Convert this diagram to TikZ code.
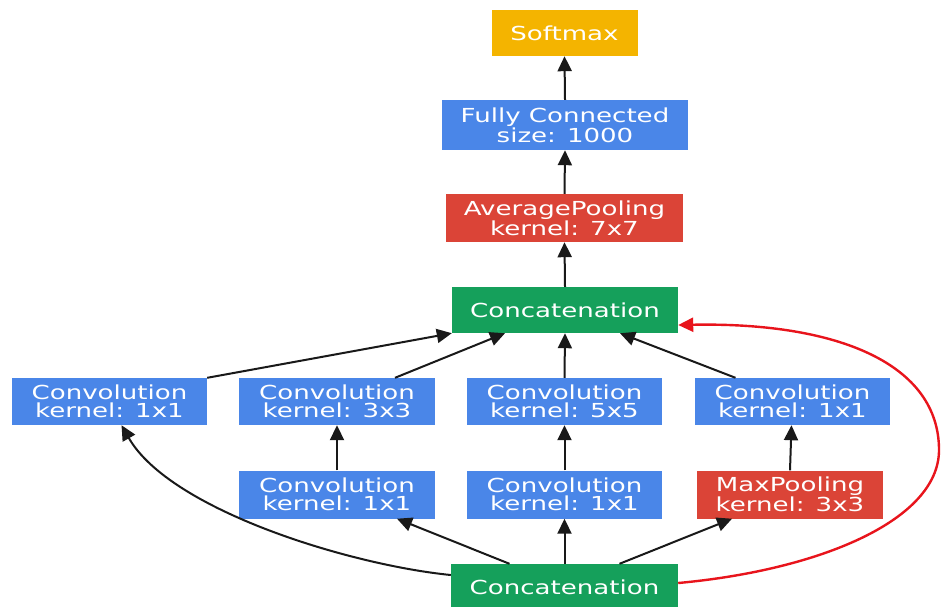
\documentclass[tikz,border=0pt]{standalone}
\usepackage{fontspec}
\setmainfont[FakeStretch=1.35]{DejaVu Sans}
\usetikzlibrary{arrows.meta}
\definecolor{gblue}{HTML}{4A86E8}
\definecolor{gred}{HTML}{DB4437}
\definecolor{gyellow}{HTML}{F4B400}
\definecolor{ggreen}{HTML}{15A05B}
\definecolor{linkred}{HTML}{E8141C}
\begin{document}
\begin{tikzpicture}[x=1pt,y=-1pt,
  layer/.style={inner sep=0pt, align=center, text=white,
    font=\fontsize{19.3}{18.5}\selectfont},
  bluebox/.style={layer, fill=gblue},
  redbox/.style={layer, fill=gred},
  yellowbox/.style={layer, fill=gyellow},
  greenbox/.style={layer, fill=ggreen},
  link/.style={draw=black!90, line width=2pt,
    -{Triangle[length=15pt,width=14pt]}},
  skip/.style={draw=linkred, line width=2.4pt,
    -{Triangle[length=15pt,width=14pt]}}]
\useasboundingbox (0,0) rectangle (941,606);
\fill[white] (0,0) rectangle (941,606);

% output stack
\node[yellowbox, minimum width=146pt, minimum height=46pt] (sm) at (564.5,33) {Softmax};
\node[bluebox, minimum width=246pt, minimum height=50pt] (fc) at (565,125) {Fully Connected\\size: 1000};
\node[redbox, minimum width=237pt, minimum height=48pt] (ap) at (564.5,218) {AveragePooling\\kernel: 7x7};
\node[greenbox, minimum width=226pt, minimum height=46pt] (ct) at (565,310) {Concatenation};

% inception branches, upper row
\node[bluebox, minimum width=195pt, minimum height=47pt] (c1) at (109.5,401.5) {Convolution\\kernel: 1x1};
\node[bluebox, minimum width=196pt, minimum height=47pt] (c2) at (337,401.5) {Convolution\\kernel: 3x3};
\node[bluebox, minimum width=195pt, minimum height=47pt] (c3) at (564.5,401.5) {Convolution\\kernel: 5x5};
\node[bluebox, minimum width=195pt, minimum height=47pt] (c4) at (792.5,401.5) {Convolution\\kernel: 1x1};

% inception branches, lower row
\node[bluebox, minimum width=196pt, minimum height=48pt] (r2) at (337,494.5) {Convolution\\kernel: 1x1};
\node[bluebox, minimum width=195pt, minimum height=48pt] (r3) at (564.5,494.5) {Convolution\\kernel: 1x1};
\node[redbox, minimum width=186pt, minimum height=48pt] (mp) at (790,494.5) {MaxPooling\\kernel: 3x3};

% input
\node[greenbox, minimum width=227pt, minimum height=46pt] (bc) at (564.5,587) {Concatenation};

% top of the network
\draw[link] (fc.north) -- (sm.south);
\draw[link] (ap.north) -- (fc.south);
\draw[link] (ct.north) -- (ap.south);

% branches into the upper concatenation
\draw[link] (c1.north east) -- (ct.south west);
\draw[link] ([xshift=58pt]c2.north) -- ([xshift=-60pt]ct.south);
\draw[link] (c3.north) -- (ct.south);
\draw[link] ([xshift=-57pt]c4.north) -- ([xshift=55pt]ct.south);

% lower row into upper row
\draw[link] (r2.north) -- (c2.south);
\draw[link] (r3.north) -- (c3.south);
\draw[link] (mp.north) -- ([xshift=-1pt]c4.south);

% input into the branches
\draw[link] ([yshift=12pt]bc.west) .. controls (350,565) and (170,510) .. ([xshift=12pt]c1.south);
\draw[link] ([xshift=-55pt]bc.north) -- ([xshift=60pt]r2.south);
\draw[link] (bc.north) -- (r3.south);
\draw[link] ([xshift=55pt]bc.north) -- ([xshift=-58pt]mp.south);

% skip connection
\draw[skip] ([yshift=4pt]bc.east) .. controls (820,570) and (939,520) .. (939,450)
  .. controls (939,365) and (840,322) .. ([yshift=-15pt]ct.east);
\end{tikzpicture}
\end{document}
